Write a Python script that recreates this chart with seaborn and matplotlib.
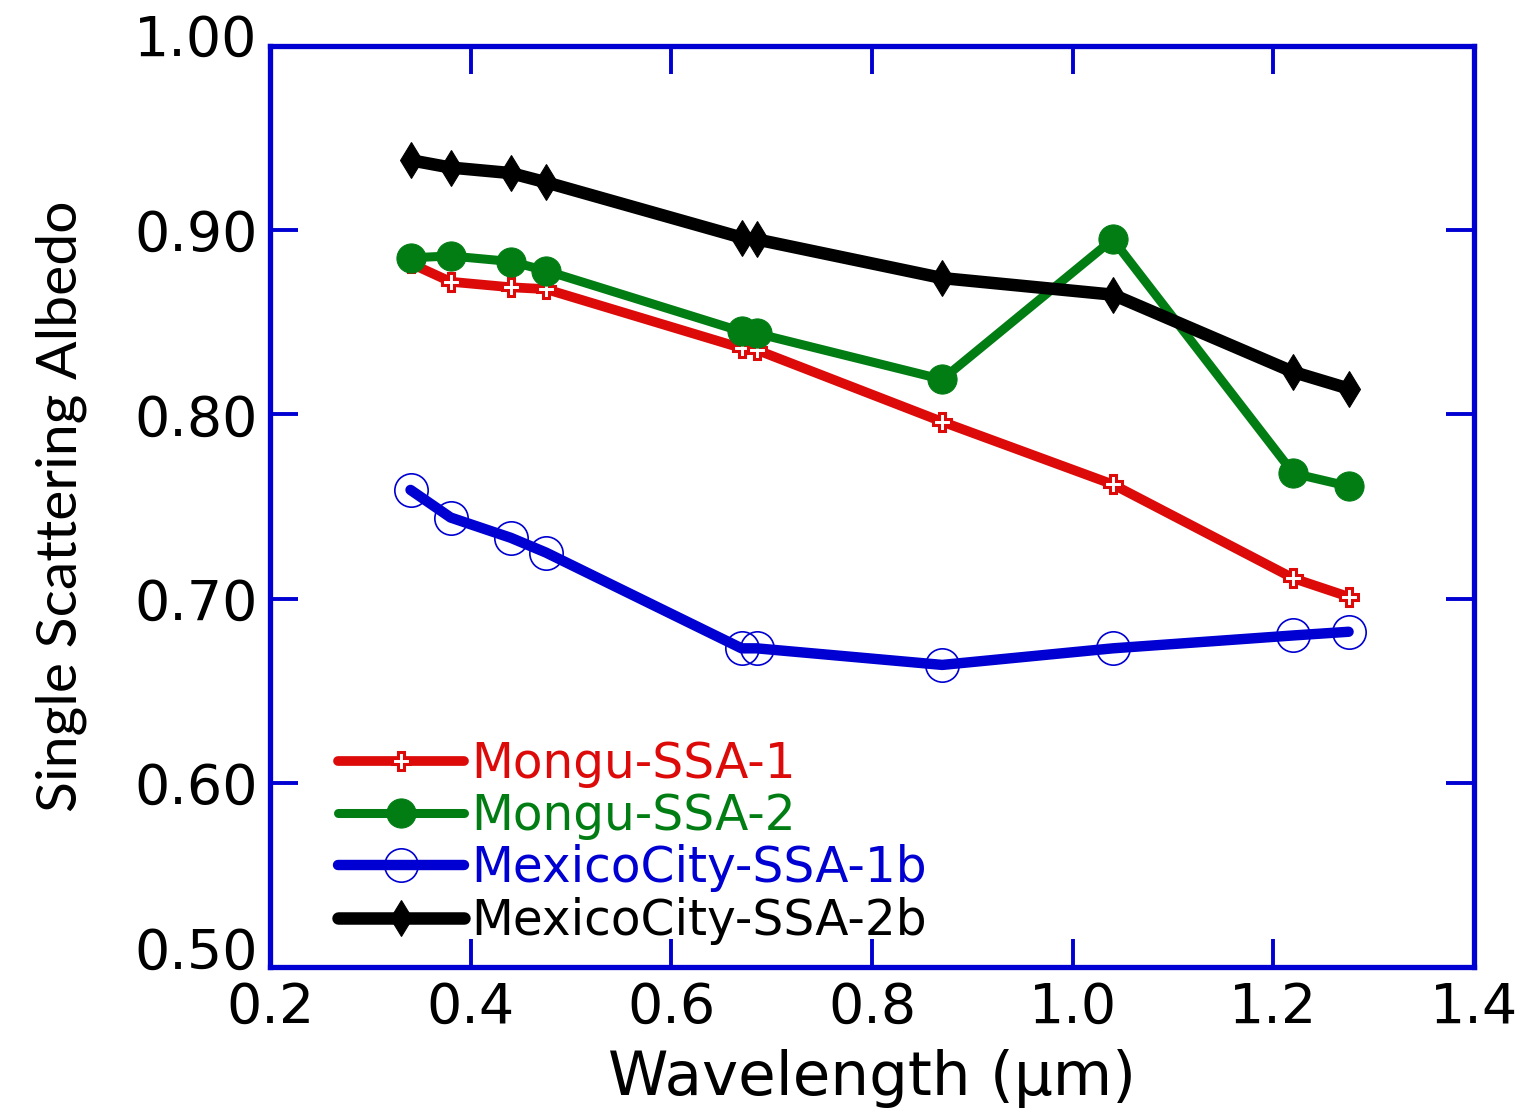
import matplotlib
matplotlib.use("Agg")
import matplotlib.pyplot as plt
import matplotlib.transforms as mtransforms
import seaborn as sns
import pandas as pd

wavelength = [0.34, 0.38, 0.44, 0.475, 0.67, 0.685, 0.87, 1.04, 1.22, 1.275]
mongu_ssa_1 = [0.882, 0.872, 0.869, 0.868, 0.836, 0.835, 0.796, 0.762, 0.711, 0.701]
mongu_ssa_2 = [0.885, 0.886, 0.883, 0.878, 0.845, 0.844, 0.819, 0.895, 0.768, 0.761]
mexico_ssa_1b = [0.759, 0.744, 0.733, 0.725, 0.673, 0.673, 0.664, 0.673, 0.680, 0.682]
mexico_ssa_2b = [0.938, 0.934, 0.931, 0.926, 0.896, 0.895, 0.874, 0.865, 0.823, 0.814]

series_names = ["Mongu-SSA-1", "Mongu-SSA-2", "MexicoCity-SSA-1b", "MexicoCity-SSA-2b"]
series_values = [mongu_ssa_1, mongu_ssa_2, mexico_ssa_1b, mexico_ssa_2b]
x_ticks = [0.2, 0.4, 0.6, 0.8, 1.0, 1.2, 1.4]
x_ticklabels = ["0.2", "0.4", "0.6", "0.8", "1.0", "1.2", "1.4"]
y_ticks = [0.5, 0.6, 0.7, 0.8, 0.9, 1.0]
y_ticklabels = ["0.50", "0.60", "0.70", "0.80", "0.90", "1.00"]

sns.set_theme(style="white")
plt.rcParams['font.family'] = ['DejaVu Sans']

RED = "#dd0a0a"
GREEN = "#017d14"
BLUE = "#0000d2"
BLACK = "#000000"

styles = [
    dict(color=RED, marker="P", markersize=13, markerfacecolor="white",
         markeredgecolor=RED, markeredgewidth=2.2, linewidth=7),
    dict(color=GREEN, marker="o", markersize=21, markerfacecolor=GREEN,
         markeredgecolor=GREEN, linewidth=6.5),
    dict(color=BLUE, marker="o", markersize=24, markerfacecolor="none",
         markeredgecolor=BLUE, markeredgewidth=1.2, linewidth=7.5),
    dict(color=BLACK, marker="d", markersize=18, markerfacecolor=BLACK,
         markeredgecolor=BLACK, linewidth=9),
]
text_colors = [RED, GREEN, BLUE, BLACK]

fig = plt.figure(figsize=(15.3, 11.16), dpi=100)
ax = fig.add_axes([0.1765, 0.1335, 0.7869, 0.8253])

for name, vals, st in zip(series_names, series_values, styles):
    df = pd.DataFrame({"Wavelength": wavelength, "SSA": vals})
    sns.lineplot(data=df, x="Wavelength", y="SSA", ax=ax, label=name,
                 sort=False, **st)

ax.set_xlim(0.2, 1.4)
ax.set_ylim(0.5, 1.0)
ax.set_xticks(x_ticks)
ax.set_xticklabels(x_ticklabels)
ax.set_yticks(y_ticks)
ax.set_yticklabels(y_ticklabels)
ax.tick_params(axis="both", which="major", direction="in", length=20, width=2.8,
               color=BLUE, labelsize=40, labelcolor="black",
               top=True, right=True, bottom=True, left=True, pad=9)
ax.tick_params(axis="x", pad=10)
for sp in ax.spines.values():
    sp.set_color(BLUE)
    sp.set_linewidth(3.8)
    sp.set_visible(True)

# nudge end labels upward as in the reference
ylabels = ax.get_yticklabels()
up_small = mtransforms.ScaledTranslation(0, 14 / 72, fig.dpi_scale_trans)
up_top = mtransforms.ScaledTranslation(0, 8 / 72, fig.dpi_scale_trans)
ylabels[0].set_transform(ylabels[0].get_transform() + up_small)
ylabels[-1].set_transform(ylabels[-1].get_transform() + up_top)

ax.set_xlabel("Wavelength (µm)", fontsize=44, color="black", labelpad=10)
ax.set_ylabel("Single Scattering Albedo", fontsize=41, color="black", labelpad=34,
              family=['Liberation Sans Narrow', 'Lato', 'DejaVu Sans'])

leg = ax.legend(loc="upper left", bbox_to_anchor=(0.0565, 0.247), frameon=False,
                fontsize=35, handlelength=2.6, handletextpad=0.15,
                labelspacing=0.09, numpoints=1, borderaxespad=0.0, borderpad=0.0)
for txt, c in zip(leg.get_texts(), text_colors):
    txt.set_color(c)

fig.savefig("out.png", dpi=100)
